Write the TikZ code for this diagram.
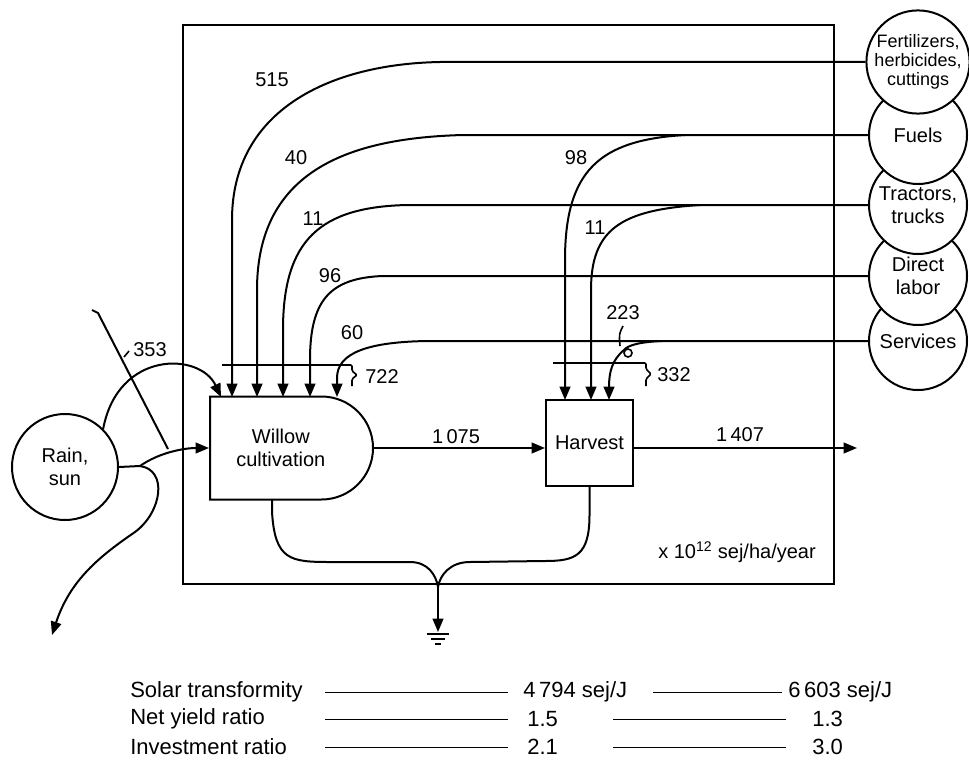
\documentclass[tikz,border=0pt]{standalone}
\usepackage{fontspec}
\setmainfont{Liberation Sans}
\usetikzlibrary{arrows.meta,shapes.misc,positioning}

\tikzset{
  flow/.style={line width=1.5pt},
  inflow/.style={flow, -{Triangle[length=10pt,width=8pt]}},
  bracket/.style={line width=1.2pt, rounded corners=1pt},
  source/.style={circle, draw, line width=1.5pt, fill=white, minimum size=73.5pt,
    inner sep=0pt, align=center, font=\fontsize{15}{17}\selectfont},
  producer/.style={rounded rectangle, rounded rectangle west arc=none, draw, line width=1.5pt,
    minimum width=122.25pt, minimum height=77.25pt, inner sep=0pt},
  process/.style={rectangle, draw, line width=1.5pt, minimum width=65.25pt, minimum height=64.5pt,
    inner sep=0pt, font=\fontsize{15}{17}\selectfont},
  num/.style={inner sep=0pt, font=\fontsize{15}{17}\selectfont},
  tabtext/.style={inner sep=0pt, font=\fontsize{16.5}{18}\selectfont},
  rule/.style={line width=0.7pt}
}

\begin{document}
\begin{tikzpicture}[x=0.75pt, y=-0.75pt]
    \useasboundingbox (0,0) rectangle (969,767);

    % System boundary
    \draw[line width=2pt] (183,25) rectangle (834,584);

    % Sources, drawn bottom up so that each circle hides the top of the next
    \node[source] (services) at (918,341) {Services};
    \node[source] (labor) at (918,276) {Direct\\labor};
    \node[source] (tractors) at (918,205) {Tractors,\\trucks};
    \node[source] (fuels) at (918,135) {Fuels};
    \node[source, font=\fontsize{13.5}{14.5}\selectfont] (fert) at (918,62) {Fertilizers,\\herbicides,\\cuttings};
    \node[source, minimum size=79.5pt] (rain) at (65,467) {Rain,\\sun};

    % Components
    \node[producer, label={[xshift=-8pt, align=center, font=\fontsize{15}{17}\selectfont]center:Willow\\cultivation}] (willow) at (291.5,448) {};
    \node[process] (harvest) at (589.5,443) {Harvest};

    % Input points on the components
    \coordinate (w0) at (221,397);
    \coordinate (w1) at (232,397);
    \coordinate (w2) at (257,397);
    \coordinate (w3) at (283,397);
    \coordinate (w4) at (310,397);
    \coordinate (w5) at (337,397);
    \coordinate (h1) at (565,400);
    \coordinate (h2) at (591,400);
    \coordinate (h3) at (609,400);
    \coordinate (wb) at (272,499);
    \coordinate (fuelsplit) at (685,135);
    \coordinate (tracsplit) at (700,205);
    \coordinate (servsplit) at (662,341);
    \coordinate (rainsplit) at (140,466);
    \coordinate (rainsink) at (52,635);
    \coordinate (sink) at (438,587);
    \coordinate (gnd) at (438,632);
    \coordinate (out) at (857,448);

    % Purchased inputs to willow cultivation
    \draw[inflow] (fert.west) -- (440,62) .. controls (330,64) and (232,110) .. (232,220) -- (w1);
    \draw[inflow] (fuels.west) -- (463,135) .. controls (350,138) and (257,170) .. (257,290) -- (w2);
    \draw[inflow] (tractors.west) -- (407,205) .. controls (320,207) and (283,240) .. (283,330) -- (w3);
    \draw[inflow] (labor.west) -- (383,276) .. controls (330,278) and (310,300) .. (310,360) -- (w4);
    \draw[inflow] (services.west) -- (427,341) .. controls (370,342) and (337,352) .. (337,378) -- (w5);

    % Purchased inputs to harvest
    \draw[inflow] (fuelsplit) .. controls (600,140) and (565,170) .. (565,260) -- (h1);
    \draw[inflow] (tracsplit) .. controls (620,210) and (591,230) .. (591,290) -- (h2);
    \draw[inflow] (servsplit) .. controls (640,342) and (628,345) .. (624,350)
        .. controls (612,360) and (609,372) .. (h3);
    \draw[line width=1.2pt] (628,353) circle (4);
    \draw[line width=1.2pt] (623,326) .. controls (619,334) .. (620,346);

    % Brackets
    \draw[bracket] (222,365) -- (352,365) -- (352,371) -- (357,375) -- (352,379) -- (352,386);
    \draw[bracket] (553,363) -- (646,363) -- (646,369) -- (651,374) -- (646,379) -- (646,386);

    % Rain and sun
    \draw[inflow] (rain.45) .. controls (118,350) and (200,352) .. (w0);
    \draw[flow] (rain.east) -- (rainsplit);
    \draw[inflow] (rainsplit) .. controls (160,452) and (185,448) .. (willow.west);
    \draw[inflow] (rainsplit) .. controls (168,470) and (162,512) .. (135,532)
        .. controls (100,556) and (70,580) .. (rainsink);
    \draw[flow] (92,310) -- (98,313) -- (168,449);
    \draw[line width=1.2pt] (124,357) -- (129,351);

    % Main flows
    \draw[inflow] (willow.east) -- (harvest.west |- willow.east);
    \draw[inflow] (harvest.east |- willow.east) -- (out);

    % Losses to the heat sink
    \draw[flow] (wb) -- (272,512) .. controls (275,560) and (290,562) .. (330,562) -- (410,562)
        .. controls (428,562) and (436,575) .. (sink);
    \draw[flow] (harvest.south) -- (589.5,515) .. controls (589.5,556) and (575,561) .. (545,561)
        -- (470,562) .. controls (450,562) and (440,575) .. (sink);
    \draw[inflow] (sink) -- (gnd);
    \draw[flow] (427,634) -- (449,634) (431,639) -- (445,639) (435,644) -- (441,644);

    % Flow values
    \node[num] (l515) at (272,80) {515};
    \node[num] (l40) at (296,158) {40};
    \node[num] (l98) at (576,158) {98};
    \node[num] (l11a) at (313,219) {11};
    \node[num] (l11b) at (595,228) {11};
    \node[num] (l96) at (330,276) {96};
    \node[num] (l60) at (352,333) {60};
    \node[num] (l223) at (623,313) {223};
    \node[num] (l353) at (150,350) {353};
    \node[num] (l722) at (382,377) {722};
    \node[num] (l332) at (674,375) {332};
    \node[num] (l1075) at (456,437) {1\,075};
    \node[num] (l1407) at (740,435) {1\,407};
    \node[num] (unit) at (737,552) {x 10\textsuperscript{12} sej/ha/year};

    % Indices
    \foreach \name/\xb/\xe/\xa/\xc/\va/\vb/\y [count=\i] in
        {Solar transformity/653/782/523/788/{4\,794 sej/J}/{6\,603 sej/J}/692,
         Net yield ratio/613/786/527/812/1.5/1.3/719,
         Investment ratio/613/786/527/812/2.1/3.0/747} {
        \node[tabtext, anchor=west] (row\i) at (130,\y) {\name};
        \draw[rule] (325,\y) -- (508,\y) (\xb,\y) -- (\xe,\y);
        \node[tabtext, anchor=west] (va\i) at (\xa,\y) {\va};
        \node[tabtext, anchor=west] (vb\i) at (\xc,\y) {\vb};
    }
\end{tikzpicture}
\end{document}
